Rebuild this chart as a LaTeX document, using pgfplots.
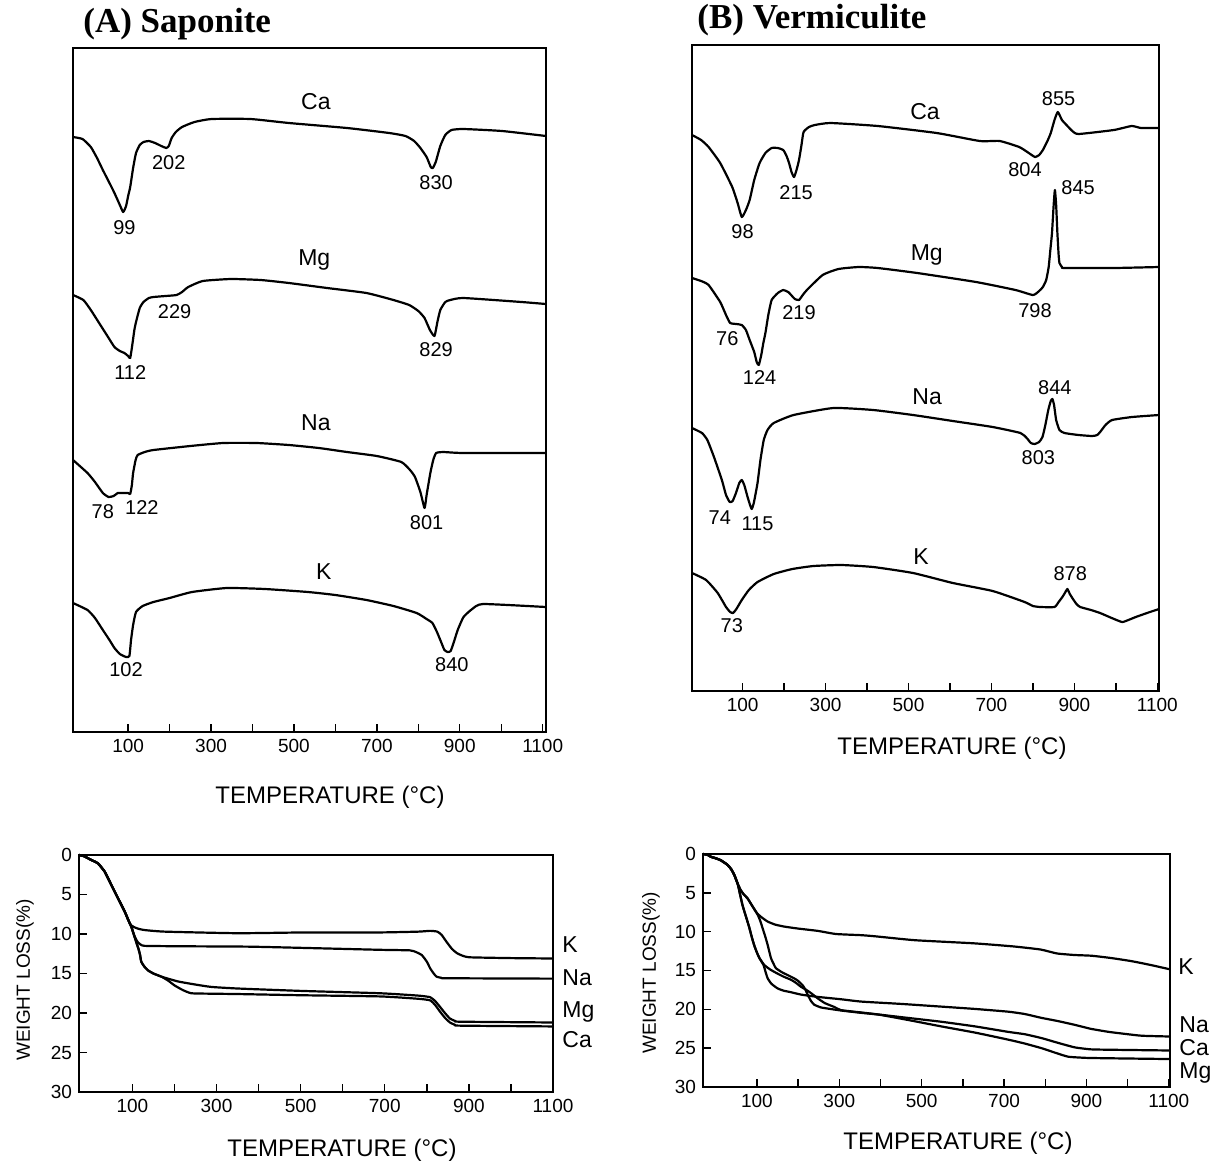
\documentclass[border=0pt]{standalone}
\usepackage{pgfplots}
\pgfplotsset{compat=1.18}
\usepackage{fontspec}
\setmainfont{Liberation Sans}
\newfontfamily\titlefont{Liberation Serif}
\newcommand\numf{\fontsize{10}{12}\selectfont}
\newcommand\elf{\fontsize{11.5}{13}\selectfont}
\newcommand\axf{\fontsize{12}{14}\selectfont}
\pgfplotsset{
  every axis/.append style={
    scale only axis, clip=false,
    axis line style={line width=0.9pt},
    tick style={black, line width=0.7pt},
    major tick length=4pt, minor tick length=4pt,
    tick align=inside, tick pos=left,
    xtick={100,200,...,1100},
    xticklabels={100,,300,,500,,700,,900,,1100},
    tick label style={font=\fontsize{9.5}{11}\selectfont},
    /pgf/number format/assume math mode=true,
  },
  curve/.style={black, line width=1.1pt, line join=round, mark=none, smooth, tension=0.3},
}
\begin{document}
\begin{tikzpicture}
\path[use as bounding box] (0,0) rectangle (608.5pt,-583.5pt);

% ---------------- (A) Saponite DTA ----------------
\begin{axis}[at={(154.75pt,-195pt)}, anchor=center,
  width=236.5pt, height=342pt,
  xmin=-33, xmax=1108, ymin=48, ymax=732, y dir=reverse, ytick=\empty]
\addplot[curve] coordinates {(-33,137) (-10,139) (10,147) (25,158) (39,170) (55,183) (67,193) (80,205) (88,212) (95,206) (100,196) (105,187) (112,168) (119,153) (128,145) (137,142) (150,141) (165,143) (180,146) (192,148) (198,146) (205,138) (215,132) (230,127) (260,122) (301,119) (395,119) (488,123) (628,128) (730,133) (769,136) (790,141) (805,148) (820,157) (830,167) (835,168) (842,162) (853,146) (865,135) (880,130) (909,129) (1002,131) (1108,136)};
\addplot[curve] coordinates {(-33,295) (-8,300) (10,310) (30,323) (50,336) (67,347) (80,351) (91,353) (100,356) (105,358) (110,345) (115,330) (119,322) (128,308) (137,302) (150,298) (161,297) (190,296) (217,295) (230,292) (245,287) (280,281) (348,279) (420,280) (488,283) (580,288) (675,293) (740,300) (778,305) (800,311) (815,318) (828,330) (839,336) (846,322) (853,310) (865,302) (877,300) (909,298) (1049,302) (1108,304)};
\addplot[curve] coordinates {(-33,460) (2,473) (20,482) (39,493) (53,497) (65,496) (75,493) (86,493) (100,493) (105,494) (109,485) (112,473) (118,460) (123,455) (140,452) (161,450) (250,446) (329,443) (410,443) (488,445) (560,448) (628,452) (700,456) (759,462) (780,470) (792,477) (805,492) (815,508) (820,495) (829,473) (836,460) (843,453) (860,452) (909,453) (1108,453)};
\addplot[curve] coordinates {(-33,603) (2,610) (20,618) (39,630) (55,640) (67,648) (80,654) (95,657) (103,656) (107,640) (112,625) (119,612) (135,606) (161,602) (200,598) (254,592) (338,588) (430,589) (534,592) (600,595) (675,600) (740,606) (796,613) (820,619) (834,623) (845,632) (853,640) (863,650) (871,652) (878,651) (885,643) (895,630) (909,617) (930,609) (956,604) (1108,607)};
\node[font=\elf] at (axis cs:553,102) {Ca};
\node[font=\numf] at (axis cs:198,163) {202};
\node[font=\numf] at (axis cs:91,228) {99};
\node[font=\numf] at (axis cs:843,183) {830};
\node[font=\elf] at (axis cs:549,260) {Mg};
\node[font=\numf] at (axis cs:212,312) {229};
\node[font=\numf] at (axis cs:105,373) {112};
\node[font=\numf] at (axis cs:843,350) {829};
\node[font=\elf] at (axis cs:553,423) {Na};
\node[font=\numf] at (axis cs:39,512) {78};
\node[font=\numf] at (axis cs:133,508) {122};
\node[font=\numf] at (axis cs:820,523) {801};
\node[font=\elf] at (axis cs:572,572) {K};
\node[font=\numf] at (axis cs:95,670) {102};
\node[font=\numf] at (axis cs:881,665) {840};
\end{axis}

% ---------------- (B) Vermiculite DTA ----------------
\begin{axis}[at={(462.75pt,-184pt)}, anchor=center,
  width=233.5pt, height=323pt,
  xmin=-22, xmax=1104, ymin=45, ymax=691, y dir=reverse, ytick=\empty]
\addplot[curve] coordinates {(-22,135) (0,140) (18,147) (46,163) (75,187) (88,203) (98,217) (108,210) (117,200) (128,180) (141,163) (155,153) (170,148) (185,148) (198,150) (206,156) (212,163) (218,172) (224,177) (230,170) (236,160) (242,145) (247,132) (260,127) (274,125) (312,123) (426,126) (568,133) (672,141) (720,141) (767,147) (790,153) (805,157) (815,155) (824,150) (835,141) (843,133) (852,120) (860,112) (870,120) (881,125) (895,131) (910,134) (995,130) (1038,126) (1061,128) (1104,128)};
\addplot[curve] coordinates {(-22,278) (0,281) (18,285) (46,302) (60,315) (70,323) (85,324) (98,325) (108,330) (117,340) (128,352) (134,362) (139,365) (145,355) (150,343) (155,333) (162,315) (170,300) (185,293) (198,290) (210,292) (217,295) (226,299) (236,300) (245,295) (255,290) (293,275) (331,269) (380,267) (426,268) (521,273) (663,282) (758,290) (800,295) (815,291) (824,287) (832,280) (838,267) (842,250) (846,233) (850,205) (853,190) (856,205) (859,233) (862,255) (864,263) (870,267) (876,268) (995,268) (1104,267)};
\addplot[curve] coordinates {(-22,428) (2,433) (15,440) (31,457) (50,480) (60,495) (69,502) (76,501) (84,493) (92,483) (98,480) (104,485) (112,497) (118,505) (122,509) (127,503) (136,483) (143,460) (151,440) (160,430) (175,423) (223,415) (319,408) (415,410) (511,415) (607,421) (703,427) (770,433) (785,438) (795,443) (804,444) (815,442) (823,437) (830,425) (837,410) (843,401) (847,399) (851,405) (856,420) (864,430) (876,433) (910,435) (943,436) (955,435) (962,432) (975,425) (991,420) (1039,417) (1104,415)};
\addplot[curve] coordinates {(-22,573) (12,580) (40,593) (60,607) (70,612) (77,613) (85,609) (98,600) (115,590) (136,582) (175,574) (220,569) (271,566) (338,565) (415,567) (511,573) (607,583) (703,591) (780,602) (800,606) (818,607) (852,607) (862,602) (871,597) (877,593) (883,589) (889,594) (895,598) (905,604) (914,607) (940,610) (962,613) (990,618) (1015,622) (1030,620) (1048,617) (1075,613) (1104,609)};
\node[font=\elf] at (axis cs:540,112) {Ca};
\node[font=\numf] at (axis cs:862,99) {855};
\node[font=\numf] at (axis cs:229,193) {215};
\node[font=\numf] at (axis cs:100,232) {98};
\node[font=\numf] at (axis cs:781,170) {804};
\node[font=\numf] at (axis cs:909,188) {845};
\node[font=\elf] at (axis cs:544,255) {Mg};
\node[font=\numf] at (axis cs:63,339) {76};
\node[font=\numf] at (axis cs:141,378) {124};
\node[font=\numf] at (axis cs:236,313) {219};
\node[font=\numf] at (axis cs:805,311) {798};
\node[font=\elf] at (axis cs:545,397) {Na};
\node[font=\numf] at (axis cs:853,388) {844};
\node[font=\numf] at (axis cs:45,518) {74};
\node[font=\numf] at (axis cs:136,524) {115};
\node[font=\numf] at (axis cs:813,458) {803};
\node[font=\elf] at (axis cs:530,557) {K};
\node[font=\numf] at (axis cs:890,574) {878};
\node[font=\numf] at (axis cs:74,626) {73};
\end{axis}

% ---------------- (A) Saponite TG ----------------
\begin{axis}[at={(158pt,-486.75pt)}, anchor=center,
  width=237pt, height=118.5pt,
  xmin=-27, xmax=1100, ymin=0, ymax=30, y dir=reverse,
  ytick={0,5,...,30}, yticklabels={0,5,10,15,20,25,30}]
\addplot[curve] coordinates {(-27,0) (-15,0.15) (-6,0.4) (5,0.7) (18,1.05) (34,2.1) (50,3.8) (66,5.5) (82,7.2) (93.5,8.65) (97,8.9) (105,9.15) (115,9.35) (129,9.5) (177,9.7) (351,9.9) (512,9.8) (689,9.8) (780,9.7) (808,9.6) (825,9.7) (835,10.1) (847,11.0) (860,11.9) (871,12.4) (885,12.75) (903,12.95) (1000,13.05) (1100,13.1)};
\addplot[curve] coordinates {(-27,0) (-15,0.15) (-6,0.4) (5,0.7) (18,1.05) (34,2.1) (50,3.8) (66,5.5) (82,7.2) (93.5,8.65) (98,9.2) (103,10.0) (108,10.6) (113,11.05) (120,11.35) (129,11.5) (208,11.55) (376,11.6) (500,11.75) (689,12.0) (760,12.07) (775,12.3) (788,12.66) (800,13.5) (808,14.35) (815,14.9) (823,15.4) (835,15.55) (847,15.6) (1100,15.65)};
\addplot[curve] coordinates {(-27,0) (-15,0.15) (-6,0.4) (5,0.7) (18,1.05) (34,2.1) (50,3.8) (66,5.5) (82,7.2) (90,8.2) (97,9.0) (103,10.0) (109,11.0) (114,11.8) (118,12.6) (121,13.5) (128,14.1) (137,14.6) (150,15.0) (169,15.4) (208,16.0) (250,16.4) (288,16.7) (351,16.9) (500,17.2) (689,17.5) (780,17.8) (808,18.0) (820,18.5) (831,19.2) (843,20.0) (855,20.7) (867,21.0) (879,21.1) (1100,21.2)};
\addplot[curve] coordinates {(-27,0) (-15,0.15) (-6,0.4) (5,0.7) (18,1.05) (34,2.1) (50,3.8) (66,5.5) (82,7.2) (90,8.2) (97,9.0) (103,10.0) (109,11.0) (114,11.8) (118,12.6) (121,13.5) (128,14.1) (137,14.6) (150,15.0) (169,15.4) (185,15.9) (200,16.5) (220,17.1) (240,17.5) (280,17.55) (351,17.6) (500,17.75) (689,17.9) (780,18.2) (808,18.4) (820,19.0) (831,19.8) (843,20.6) (855,21.2) (867,21.5) (879,21.6) (1100,21.7)};
\end{axis}

% ---------------- (B) Vermiculite TG ----------------
\begin{axis}[at={(468.25pt,-485.25pt)}, anchor=center,
  width=233.5pt, height=116.5pt,
  xmin=-31, xmax=1103, ymin=0, ymax=30, y dir=reverse,
  ytick={0,5,...,30}, yticklabels={0,5,10,15,20,25,30}]
% K
\addplot[curve] coordinates {(-31,0) (-20,0.1) (-12,0.35) (0,0.55) (12,0.8) (28.6,1.4) (38,2.0) (45,2.7) (53,3.8) (60,4.6) (68,5.2) (77,5.7) (90,6.8) (100,7.6) (110,8.1) (126,8.7) (145,9.1) (167,9.35) (200,9.6) (248,9.9) (292,10.3) (353,10.45) (388,10.6) (484,11.1) (627,11.5) (723,11.9) (789,12.3) (828,12.8) (870,13.0) (913,13.1) (961,13.4) (1010,13.8) (1057,14.3) (1103,14.85)};
% Na
\addplot[curve] coordinates {(-31,0) (-20,0.1) (-12,0.35) (0,0.55) (12,0.8) (28.6,1.4) (38,2.0) (45,2.7) (53,3.8) (59,5.2) (65,6.6) (73,8.0) (81,9.4) (87,10.6) (93,11.7) (100,12.7) (106,13.4) (116,14.3) (121,15.2) (126,16.0) (135,16.7) (150,17.3) (165,17.6) (183,17.8) (207,18.1) (248,18.4) (304,18.7) (353,19.0) (450,19.3) (548,19.65) (630,19.95) (710,20.3) (750,20.6) (791,21.1) (830,21.5) (872,22.0) (910,22.5) (954,22.9) (1000,23.2) (1035,23.4) (1103,23.5)};
% Ca
\addplot[curve] coordinates {(-31,0) (-20,0.1) (-12,0.35) (0,0.55) (12,0.8) (28.6,1.4) (38,2.0) (45,2.7) (53,3.8) (59,5.2) (65,6.6) (73,8.0) (81,9.4) (87,10.6) (93,11.7) (100,12.7) (106,13.4) (118,14.3) (133,14.9) (150,15.4) (165,15.8) (183,16.2) (195,16.6) (207,17.1) (220,17.5) (231,17.9) (248,18.6) (265,19.2) (288,19.7) (304,20.1) (353,20.4) (450,21.0) (548,21.6) (630,22.2) (710,22.9) (750,23.2) (791,23.7) (830,24.3) (872,24.9) (910,25.15) (954,25.2) (1103,25.3)};
% Mg
\addplot[curve] coordinates {(-31,0) (-20,0.1) (-12,0.35) (0,0.55) (12,0.8) (28.6,1.4) (38,2.0) (45,2.7) (53,3.8) (60,4.6) (68,5.2) (77,5.7) (90,6.8) (102,7.85) (108,8.6) (114,9.6) (120,10.6) (126,11.7) (134,13.4) (140,14.1) (146,14.7) (160,15.2) (175,15.6) (190,16.0) (199,16.3) (211,16.9) (217,17.4) (223,18.1) (231,18.9) (239,19.4) (255,19.75) (272,19.9) (304,20.15) (353,20.45) (398,20.7) (470,21.4) (548,22.2) (630,23.0) (710,23.9) (750,24.4) (791,25.0) (825,25.6) (856,26.1) (900,26.25) (954,26.3) (1103,26.4)};
\end{axis}

% ---------------- titles and labels ----------------
\node[anchor=west, inner sep=0pt, font=\titlefont\bfseries\fontsize{17.5}{20}\selectfont] at (41.5pt,-12pt) {(A) Saponite};
\node[anchor=west, inner sep=0pt, font=\titlefont\bfseries\fontsize{17.5}{20}\selectfont] at (348.5pt,-10pt) {(B) Vermiculite};
\node[font=\axf] at (165pt,-398.5pt) {TEMPERATURE (°C)};
\node[font=\axf] at (476pt,-374pt) {TEMPERATURE (°C)};
\node[font=\axf] at (171pt,-575pt) {TEMPERATURE (°C)};
\node[font=\axf] at (479pt,-571.5pt) {TEMPERATURE (°C)};
\node[font=\fontsize{9.5}{11}\selectfont, rotate=90] at (12.5pt,-490pt) {WEIGHT LOSS(\%)};
\node[font=\fontsize{9.5}{11}\selectfont, rotate=90] at (325.5pt,-486.5pt) {WEIGHT LOSS(\%)};
\node[font=\elf, anchor=west, inner sep=0pt] at (281pt,-472.5pt) {K};
\node[font=\elf, anchor=west, inner sep=0pt] at (281pt,-489pt) {Na};
\node[font=\elf, anchor=west, inner sep=0pt] at (281pt,-506pt) {Mg};
\node[font=\elf, anchor=west, inner sep=0pt] at (281pt,-520pt) {Ca};
\node[font=\elf, anchor=west, inner sep=0pt] at (589pt,-483.5pt) {K};
\node[font=\elf, anchor=west, inner sep=0pt] at (589.5pt,-512.5pt) {Na};
\node[font=\elf, anchor=west, inner sep=0pt] at (589.5pt,-524pt) {Ca};
\node[font=\elf, anchor=west, inner sep=0pt] at (589.5pt,-536.5pt) {Mg};
\end{tikzpicture}
\end{document}
